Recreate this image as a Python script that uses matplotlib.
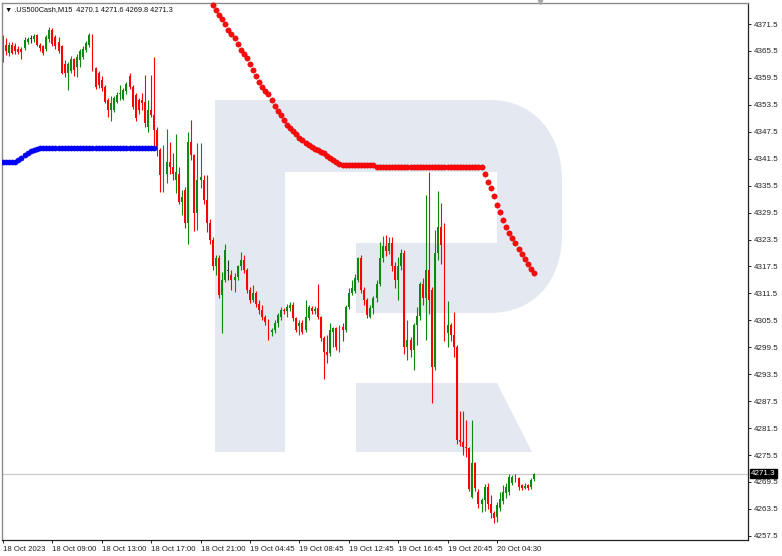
"""US500Cash M15 candles with two dotted indicator lines (MT4-style chart)."""
import matplotlib

matplotlib.use("Agg")
import matplotlib.pyplot as plt
import numpy as np
from matplotlib.patches import PathPatch, Polygon
from matplotlib.path import Path
from matplotlib.transforms import Affine2D, blended_transform_factory

TITLE = "\u25bc .US500Cash,M15  4270.1 4271.6 4269.8 4271.3"
LAST_PRICE = 4271.3

# one value per M15 bar, bar 0 = 18 Oct 05:00
OPEN = [
    4363.1, 4366.8, 4365.0, 4366.8, 4366.5, 4366.0, 4366.0, 4366.1, 4367.6, 4368.1,
    4368.1, 4369.0, 4366.8, 4366.5, 4366.0, 4368.1, 4370.2, 4368.5, 4367.5, 4366.5,
    4362.5, 4360.5, 4361.0, 4363.8, 4362.0, 4363.5, 4364.2, 4365.7, 4366.8, 4368.7,
    4361.6, 4360.5, 4359.0, 4357.5, 4354.6, 4352.4, 4352.4, 4354.2, 4356.0, 4354.8,
    4356.5, 4360.0, 4357.5, 4355.7, 4354.5, 4354.6, 4354.2, 4348.6, 4352.3, 4351.2,
    4347.9, 4343.4, 4337.9, 4338.2, 4340.8, 4339.7, 4336.7, 4338.2, 4331.9, 4334.5,
    4327.1, 4345.3, 4342.3, 4329.3, 4336.7, 4336.7, 4332.3, 4327.1, 4323.4, 4317.5,
    4319.3, 4311.1, 4314.5, 4316.5, 4315.6, 4314.5, 4315.2, 4317.5, 4318.9, 4316.7,
    4312.2, 4310.0, 4311.5, 4309.2, 4307.7, 4306.3, 4305.2, 4303.0, 4303.3, 4304.8,
    4306.3, 4307.8, 4307.6, 4308.2, 4309.0, 4306.0, 4304.2, 4304.8, 4303.4, 4306.0,
    4308.3, 4307.6, 4308.2, 4306.3, 4301.5, 4298.5, 4298.2, 4302.8, 4303.7, 4299.6,
    4304.1, 4303.4, 4308.5, 4311.5, 4312.0, 4314.5, 4319.3, 4312.3, 4310.0, 4306.3,
    4308.2, 4310.4, 4313.7, 4319.3, 4322.0, 4321.0, 4322.7, 4317.5, 4314.5, 4317.5,
    4320.4, 4299.6, 4301.1, 4298.9, 4304.5, 4306.5, 4313.7, 4310.4, 4316.7, 4312.3,
    4295.2, 4320.4, 4326.3, 4322.2, 4302.6, 4304.5, 4302.2, 4299.6, 4278.8, 4278.4,
    4277.4, 4277.0, 4266.2, 4273.7, 4267.3, 4264.7, 4265.5, 4268.4, 4264.7, 4262.5,
    4261.8, 4263.6, 4265.2, 4267.0, 4267.3, 4269.2, 4270.6, 4270.4, 4268.8, 4268.1,
    4268.8, 4268.4, 4270.1,
]
HIGH = [
    4369.0, 4368.3, 4367.5, 4367.5, 4367.3, 4366.6, 4366.3, 4368.5, 4368.7, 4369.1,
    4369.2, 4369.3, 4367.2, 4366.9, 4369.0, 4370.8, 4370.6, 4369.0, 4368.7, 4366.8,
    4363.5, 4363.0, 4364.3, 4364.0, 4364.8, 4366.0, 4366.6, 4367.7, 4369.4, 4369.2,
    4362.0, 4361.0, 4360.0, 4358.0, 4355.0, 4355.5, 4355.5, 4356.3, 4357.9, 4357.2,
    4358.6, 4360.5, 4357.9, 4356.2, 4355.0, 4356.1, 4360.1, 4354.6, 4360.1, 4364.2,
    4348.5, 4343.8, 4344.5, 4348.2, 4345.3, 4342.7, 4347.1, 4339.7, 4334.5, 4335.3,
    4347.5, 4350.1, 4342.5, 4344.9, 4345.0, 4337.9, 4337.9, 4328.0, 4324.0, 4320.0,
    4320.0, 4316.3, 4322.6, 4318.9, 4316.7, 4316.0, 4317.8, 4320.8, 4320.0, 4317.1,
    4313.0, 4313.4, 4312.0, 4310.0, 4308.9, 4306.8, 4305.8, 4303.7, 4305.5, 4307.2,
    4308.5, 4308.3, 4309.2, 4309.5, 4309.6, 4306.3, 4305.5, 4305.5, 4310.0, 4309.0,
    4308.8, 4308.6, 4313.7, 4306.5, 4302.0, 4302.2, 4305.0, 4304.1, 4304.1, 4304.5,
    4304.8, 4309.0, 4312.7, 4314.5, 4315.8, 4319.7, 4320.0, 4313.0, 4310.5, 4309.0,
    4311.0, 4314.5, 4323.0, 4324.3, 4324.5, 4324.0, 4324.1, 4318.5, 4319.7, 4321.5,
    4321.2, 4305.6, 4301.8, 4305.0, 4308.5, 4314.1, 4315.0, 4333.4, 4338.6, 4313.0,
    4325.6, 4334.2, 4331.6, 4327.1, 4309.9, 4305.0, 4307.4, 4300.0, 4285.2, 4285.2,
    4283.3, 4277.4, 4283.3, 4274.0, 4268.0, 4266.0, 4269.0, 4269.2, 4266.5, 4263.0,
    4265.0, 4267.3, 4268.8, 4269.2, 4271.3, 4271.0, 4271.3, 4270.6, 4269.0, 4269.2,
    4269.0, 4270.3, 4271.6,
]
LOW = [
    4363.1, 4364.5, 4364.3, 4364.8, 4364.8, 4364.8, 4363.8, 4365.8, 4367.0, 4367.2,
    4367.6, 4366.5, 4365.5, 4364.6, 4365.5, 4367.5, 4366.5, 4366.0, 4365.0, 4360.3,
    4359.7, 4356.8, 4360.5, 4360.0, 4359.8, 4362.0, 4363.8, 4365.3, 4366.3, 4361.0,
    4357.0, 4357.2, 4356.5, 4353.8, 4350.9, 4350.0, 4351.8, 4353.8, 4354.6, 4354.5,
    4356.0, 4357.0, 4352.5, 4350.0, 4351.5, 4352.3, 4348.6, 4347.5, 4350.9, 4343.4,
    4342.0, 4334.1, 4334.1, 4336.0, 4338.2, 4336.7, 4333.8, 4331.5, 4329.0, 4326.0,
    4322.6, 4341.2, 4325.3, 4325.6, 4335.0, 4331.5, 4325.2, 4322.5, 4316.8, 4315.5,
    4310.5, 4302.6, 4314.1, 4314.5, 4312.3, 4311.9, 4314.5, 4316.8, 4316.0, 4311.5,
    4309.3, 4309.5, 4308.5, 4307.0, 4305.6, 4304.5, 4301.1, 4302.0, 4302.6, 4304.0,
    4305.5, 4307.0, 4306.3, 4307.5, 4305.3, 4303.0, 4302.2, 4302.5, 4303.0, 4305.5,
    4307.0, 4307.0, 4305.8, 4301.0, 4292.4, 4296.0, 4297.5, 4299.6, 4299.0, 4298.5,
    4301.0, 4303.0, 4308.0, 4311.1, 4311.5, 4314.0, 4311.5, 4309.0, 4306.0, 4306.0,
    4307.0, 4309.5, 4313.2, 4318.5, 4319.8, 4320.2, 4316.5, 4312.7, 4310.0, 4316.8,
    4298.0, 4296.7, 4297.4, 4294.4, 4300.0, 4305.5, 4309.0, 4301.1, 4307.0, 4287.0,
    4294.5, 4319.0, 4318.0, 4301.0, 4299.6, 4301.0, 4297.4, 4278.0, 4277.5, 4275.5,
    4275.0, 4267.5, 4266.0, 4267.5, 4263.6, 4262.8, 4263.0, 4263.5, 4261.4, 4260.3,
    4260.6, 4263.0, 4264.7, 4266.0, 4266.7, 4268.8, 4269.5, 4267.7, 4267.7, 4268.0,
    4267.8, 4268.0, 4269.8,
]
CLOSE = [
    4366.8, 4365.5, 4366.8, 4365.0, 4365.5, 4365.3, 4365.3, 4367.9, 4368.1, 4368.1,
    4368.8, 4366.8, 4366.1, 4365.0, 4368.7, 4370.2, 4367.0, 4366.5, 4365.5, 4360.5,
    4360.5, 4362.5, 4363.8, 4361.3, 4364.2, 4365.5, 4366.0, 4367.2, 4369.0, 4361.3,
    4357.5, 4358.0, 4357.2, 4354.2, 4352.4, 4354.0, 4355.0, 4355.7, 4356.1, 4356.8,
    4358.2, 4357.5, 4353.1, 4350.5, 4352.4, 4353.8, 4349.4, 4352.3, 4351.2, 4347.9,
    4343.4, 4337.9, 4338.2, 4340.8, 4339.7, 4338.2, 4338.6, 4331.9, 4333.0, 4327.1,
    4345.3, 4342.3, 4329.3, 4336.7, 4337.5, 4332.3, 4327.1, 4323.4, 4317.5, 4319.3,
    4311.1, 4314.5, 4321.2, 4316.5, 4314.5, 4315.2, 4317.5, 4318.9, 4316.7, 4312.2,
    4310.0, 4311.5, 4309.2, 4307.7, 4306.3, 4305.2, 4303.0, 4303.3, 4304.8, 4306.7,
    4307.8, 4307.5, 4308.5, 4309.0, 4306.0, 4303.4, 4304.8, 4303.0, 4306.3, 4308.5,
    4307.6, 4308.1, 4306.3, 4301.5, 4298.5, 4297.8, 4303.4, 4303.7, 4299.6, 4304.1,
    4303.4, 4308.5, 4311.5, 4312.7, 4315.0, 4319.3, 4312.3, 4310.0, 4306.7, 4308.2,
    4310.4, 4313.7, 4319.3, 4322.0, 4321.0, 4322.7, 4317.5, 4314.5, 4317.5, 4320.4,
    4299.6, 4301.1, 4298.9, 4304.5, 4306.5, 4313.7, 4310.4, 4316.7, 4310.0, 4295.2,
    4320.4, 4326.3, 4322.2, 4302.6, 4304.5, 4302.2, 4299.6, 4278.8, 4278.4, 4277.4,
    4277.0, 4268.0, 4273.7, 4268.2, 4264.7, 4265.5, 4268.4, 4264.7, 4262.5, 4261.4,
    4264.4, 4265.8, 4267.3, 4268.4, 4270.6, 4270.6, 4270.4, 4268.4, 4268.1, 4268.6,
    4268.2, 4269.9, 4271.3,
]

# blue dotted line, bars 0..49
BLUE_DOTS = [
    4340.8, 4340.8, 4340.8, 4340.8, 4340.8, 4341.2, 4341.7, 4342.3, 4342.8, 4343.2,
    4343.5, 4343.7, 4343.8, 4343.9, 4343.9, 4343.9, 4343.9, 4343.9, 4343.9, 4343.9,
    4343.9, 4343.9, 4343.9, 4343.9, 4343.9, 4343.9, 4343.9, 4343.9, 4343.9, 4343.9,
    4343.9, 4343.9, 4343.9, 4343.9, 4343.9, 4343.9, 4343.9, 4343.9, 4343.9, 4343.9,
    4343.9, 4343.9, 4343.9, 4343.9, 4343.9, 4343.9, 4343.9, 4343.9, 4343.9, 4343.9,
]
# red dotted line, bars 68..172
RED_START = 68
RED_DOTS = [
    4375.7, 4374.6, 4373.5, 4372.6, 4371.5, 4370.2, 4369.3, 4368.4, 4367.0, 4365.7,
    4364.8, 4363.9, 4362.6, 4361.3, 4359.9, 4358.6, 4357.5, 4356.6, 4355.9, 4354.6,
    4353.2, 4352.1, 4351.2, 4350.1, 4349.0, 4348.3, 4347.6, 4346.9, 4346.2, 4345.6,
    4345.1, 4344.6, 4344.1, 4343.7, 4343.4, 4343.1, 4342.7, 4342.1, 4341.7, 4341.2,
    4340.8, 4340.3, 4340.0, 4340.0, 4340.0, 4340.0, 4340.0, 4340.0, 4340.0, 4340.0,
    4340.0, 4340.0, 4340.0, 4339.6, 4339.6, 4339.6, 4339.6, 4339.6, 4339.6, 4339.6,
    4339.6, 4339.6, 4339.6, 4339.6, 4339.6, 4339.6, 4339.6, 4339.6, 4339.6, 4339.6,
    4339.6, 4339.6, 4339.6, 4339.6, 4339.6, 4339.6, 4339.6, 4339.6, 4339.6, 4339.6,
    4339.6, 4339.6, 4339.6, 4339.6, 4339.6, 4339.6, 4339.6, 4339.6, 4338.0, 4336.4,
    4335.0, 4333.2, 4331.2, 4329.6, 4327.9, 4326.3, 4324.9, 4323.8, 4322.7, 4321.4,
    4320.3, 4319.2, 4318.0, 4316.9, 4316.0,
]

TICK_BARS = [0, 16, 32, 48, 64, 80, 96, 112, 128, 144, 160]
TICK_LABELS = [
    "18 Oct 2023", "18 Oct 09:00", "18 Oct 13:00", "18 Oct 17:00", "18 Oct 21:00",
    "19 Oct 04:45", "19 Oct 08:45", "19 Oct 12:45", "19 Oct 16:45", "19 Oct 20:45",
    "20 Oct 04:30",
]
PRICE_TICKS = [
    4257.5, 4263.5, 4269.5, 4275.5, 4281.5, 4287.5, 4293.5, 4299.5, 4305.5, 4311.5,
    4317.5, 4323.5, 4329.5, 4335.5, 4341.5, 4347.5, 4353.5, 4359.5, 4365.5, 4371.5,
]

W, H = 782, 556
FONT = ["Liberation Sans", "DejaVu Sans"]
plt.rcParams["font.family"] = FONT

fig = plt.figure(figsize=(W / 100, H / 100), dpi=100)
fig.patch.set_facecolor("white")
ax = fig.add_axes([2 / W, (H - 540) / H, 746 / W, 537 / H])
ax.set_xlim(-0.3, 241.3)
ax.set_ylim(4256.58, 4376.18)

# background "R" watermark, drawn in pixel coordinates (y down)
px = Affine2D().scale(1 / W, -1 / H).translate(0, 1) + fig.transFigure
R_COLOR = "#e4e9f1"
verts = [
    (215, 100), (490, 100),
    (535, 100), (562, 135), (562, 180),
    (562, 235),
    (562, 280), (535, 313), (490, 313),
    (356, 313), (356, 243), (497, 243), (497, 172), (285, 172),
    (285, 452), (215, 452), (215, 100),
]
codes = [Path.MOVETO, Path.LINETO,
         Path.CURVE4, Path.CURVE4, Path.CURVE4,
         Path.LINETO,
         Path.CURVE4, Path.CURVE4, Path.CURVE4,
         Path.LINETO, Path.LINETO, Path.LINETO, Path.LINETO, Path.LINETO,
         Path.LINETO, Path.LINETO, Path.CLOSEPOLY]
ax.add_patch(PathPatch(Path(verts, codes), transform=px, fc=R_COLOR, ec="none", zorder=0))
ax.add_patch(Polygon([(356, 383), (497, 383), (532, 452), (356, 452)],
                     closed=True, transform=px, fc=R_COLOR, ec="none", zorder=0))

# last price line
ax.axhline(LAST_PRICE, color="#c8c8c8", lw=0.8, zorder=1)

o = np.array(OPEN)
h = np.array(HIGH)
l = np.array(LOW)
c = np.array(CLOSE)
x = np.arange(len(o))
colors = np.where(c > o, "#0b8a0b", np.where(c < o, "#ff0000", "#333333"))
ax.vlines(x, l, h, colors=colors, lw=0.8, zorder=2)
body = np.maximum(np.abs(c - o), 0.2)
ax.bar(x, body, bottom=np.minimum(o, c), width=0.62, color=colors, lw=0, zorder=2)

# indicator dots
ax.plot(np.arange(len(BLUE_DOTS)), BLUE_DOTS, "o", ms=3.7, mfc="#0000ff", mec="#0000e0",
        mew=0.4, zorder=3)
ax.plot(np.arange(RED_START, RED_START + len(RED_DOTS)), RED_DOTS, "o", ms=3.8,
        mfc="#ff0a0a", mec="#dd0000", mew=0.4, zorder=3, clip_on=False)

# axes styling
for side in ["left", "top"]:
    ax.spines[side].set_color("#8c8c8c")
    ax.spines[side].set_linewidth(1.0)
for side in ["right", "bottom"]:
    ax.spines[side].set_color("#222222")
    ax.spines[side].set_linewidth(0.9)

ax.yaxis.tick_right()
ax.set_yticks(PRICE_TICKS)
ax.set_yticklabels([f"{v:.1f}" for v in PRICE_TICKS])
ax.tick_params(axis="y", direction="out", length=2.5, width=0.7, pad=1.5,
               labelsize=5.8, colors="#222222")
ax.set_xticks(TICK_BARS)
ax.set_xticklabels(TICK_LABELS, ha="left")
ax.tick_params(axis="x", direction="out", length=2.5, width=0.7, pad=1.5,
               labelsize=5.6, colors="#222222")
for lbl in ax.get_xticklabels():
    lbl.set_horizontalalignment("left")

# last price box on the price scale
trans = blended_transform_factory(ax.transAxes, ax.transData)
ax.text(1.004, LAST_PRICE, f"{LAST_PRICE:.1f}", transform=trans, ha="left", va="center",
        fontsize=5.8, color="white",
        bbox=dict(boxstyle="square,pad=0.12", fc="black", ec="black"))

# chart shift marker and title
ax.plot([(540 - 2) / 746], [1.004], marker="v", ms=5, color="#a8a8a8",
        transform=ax.transAxes, clip_on=False, zorder=5)
ax.text(3 / 746, 1 - 7 / 537, TITLE, transform=ax.transAxes, ha="left", va="center",
        fontsize=5.3, color="#111111", zorder=5)

fig.savefig("out.png", dpi=100, facecolor="white")
